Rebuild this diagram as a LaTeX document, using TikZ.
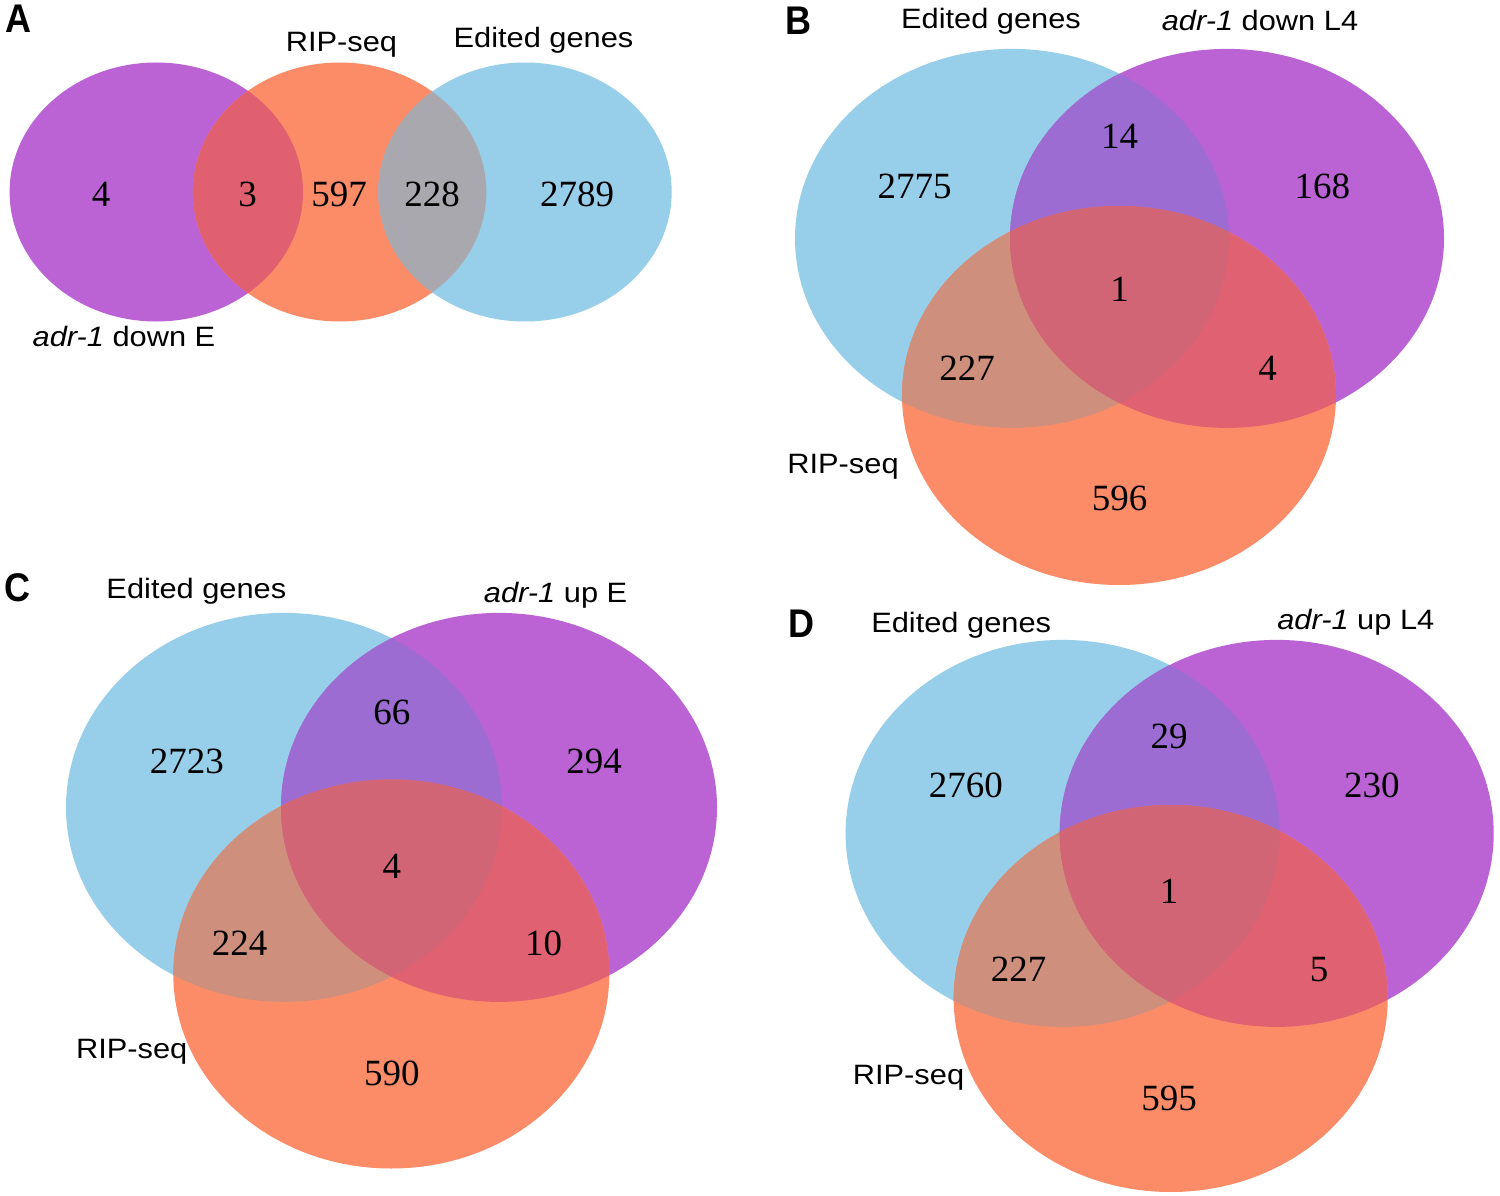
\documentclass[tikz,border=0pt]{standalone}
\usepackage{fontspec}
\newfontfamily\numfont{Liberation Serif}
\newfontfamily\labfont[FakeStretch=1.1]{Liberation Sans}
\newfontfamily\panfont[FakeStretch=0.9]{Liberation Sans}
\definecolor{cpurple}{RGB}{187,99,212}
\definecolor{cblue}{RGB}{151,206,233}
\definecolor{corange}{RGB}{252,140,103}
\definecolor{cpoA}{RGB}{224,96,112}
\definecolor{cgrayA}{RGB}{168,168,174}
\definecolor{cbp}{RGB}{156,108,210}
\definecolor{cbo}{RGB}{206,144,125}
\definecolor{cpo}{RGB}{224,97,113}
\definecolor{cbpo}{RGB}{209,101,117}
% #1,#2 blue centre; #3,#4 purple centre; #5,#6 orange centre; #7 rx; #8 ry
\newcommand{\vennthree}[8]{%
  \fill[cblue] (#1,#2) ellipse [x radius=#7pt, y radius=#8pt];
  \fill[cpurple] (#3,#4) ellipse [x radius=#7pt, y radius=#8pt];
  \fill[corange] (#5,#6) ellipse [x radius=#7pt, y radius=#8pt];
  \begin{scope}
    \clip (#1,#2) ellipse [x radius=#7pt, y radius=#8pt];
    \fill[cbp] (#3,#4) ellipse [x radius=#7pt, y radius=#8pt];
  \end{scope}
  \begin{scope}
    \clip (#1,#2) ellipse [x radius=#7pt, y radius=#8pt];
    \fill[cbo] (#5,#6) ellipse [x radius=#7pt, y radius=#8pt];
  \end{scope}
  \begin{scope}
    \clip (#3,#4) ellipse [x radius=#7pt, y radius=#8pt];
    \fill[cpo] (#5,#6) ellipse [x radius=#7pt, y radius=#8pt];
  \end{scope}
  \begin{scope}
    \clip (#1,#2) ellipse [x radius=#7pt, y radius=#8pt];
    \clip (#3,#4) ellipse [x radius=#7pt, y radius=#8pt];
    \fill[cbpo] (#5,#6) ellipse [x radius=#7pt, y radius=#8pt];
  \end{scope}
}
\tikzset{
  num/.style={font=\numfont\fontsize{37}{40}\selectfont, anchor=base, inner sep=0pt},
  lab/.style={font=\labfont\fontsize{28}{32}\selectfont, anchor=base, inner sep=0pt},
  pan/.style={font=\panfont\bfseries\fontsize{40}{44}\selectfont, anchor=base, inner sep=0pt},
}
\begin{document}
\begin{tikzpicture}[x=1pt,y=-1pt]
\useasboundingbox (0,0) rectangle (1500,1196);
\fill[white] (0,0) rectangle (1500,1196);

% ---------------- Panel A ----------------
\fill[cpurple] (156.3,192) ellipse [x radius=146.7pt, y radius=129.5pt];
\fill[corange] (339.6,192) ellipse [x radius=146.7pt, y radius=129.5pt];
\fill[cblue] (525,192) ellipse [x radius=146.7pt, y radius=129.5pt];
\begin{scope}
  \clip (156.3,192) ellipse [x radius=146.7pt, y radius=129.5pt];
  \fill[cpoA] (339.6,192) ellipse [x radius=146.7pt, y radius=129.5pt];
\end{scope}
\begin{scope}
  \clip (525,192) ellipse [x radius=146.7pt, y radius=129.5pt];
  \fill[cgrayA] (339.6,192) ellipse [x radius=146.7pt, y radius=129.5pt];
\end{scope}
\node[pan] (pA) at (18,33) {A};
\node[lab] (aRip) at (341.5,51.5) {RIP-seq};
\node[lab] (aEd) at (543.5,47.7) {Edited genes};
\node[lab] (aAdr) at (124,346.7) {\textit{adr-1} down E};
\node[num] (a1) at (101,206) {4};
\node[num] (a2) at (247.7,206) {3};
\node[num] (a3) at (339,206) {597};
\node[num] (a4) at (432,206) {228};
\node[num] (a5) at (577,206) {2789};

% ---------------- Panel B ----------------
\vennthree{1012}{238.4}{1227}{238.4}{1119}{395.5}{217}{189.5}
\node[pan] (pB) at (798,35) {B};
\node[lab] (bEd) at (991,29) {Edited genes};
\node[lab] (bAdr) at (1260,31) {\textit{adr-1} down L4};
\node[lab] (bRip) at (843,473) {RIP-seq};
\node[num] (b1) at (914.6,198.3) {2775};
\node[num] (b2) at (1119.7,148.5) {14};
\node[num] (b3) at (1322.4,198.3) {168};
\node[num] (b4) at (1119.7,301.5) {1};
\node[num] (b5) at (967,380) {227};
\node[num] (b6) at (1267.5,380) {4};
\node[num] (b7) at (1119.7,510.5) {596};

% ---------------- Panel C ----------------
\vennthree{284}{807.4}{499}{807.4}{391.3}{974}{218}{194.5}
\node[pan] (pC) at (17,601) {C};
\node[lab] (cEd) at (196.4,598.4) {Edited genes};
\node[lab] (cAdr) at (555.6,602.4) {\textit{adr-1} up E};
\node[lab] (cRip) at (131.7,1058.7) {RIP-seq};
\node[num] (c1) at (186.8,773.3) {2723};
\node[num] (c2) at (391.8,724.5) {66};
\node[num] (c3) at (594,773.3) {294};
\node[num] (c4) at (391.8,878.5) {4};
\node[num] (c5) at (239.5,955.8) {224};
\node[num] (c6) at (543.7,955.8) {10};
\node[num] (c7) at (391.8,1085.5) {590};

% ---------------- Panel D ----------------
\vennthree{1062.6}{833.4}{1276.7}{833.4}{1170.7}{998.5}{217}{193.5}
\node[pan] (pD) at (801,637) {D};
\node[lab] (dEd) at (961.2,632.8) {Edited genes};
\node[lab] (dAdr) at (1355.8,629) {\textit{adr-1} up L4};
\node[lab] (dRip) at (908.5,1084.8) {RIP-seq};
\node[num] (d1) at (965.8,797.5) {2760};
\node[num] (d2) at (1169,748.5) {29};
\node[num] (d3) at (1371.9,797.5) {230};
\node[num] (d4) at (1169,903.8) {1};
\node[num] (d5) at (1018.6,981) {227};
\node[num] (d6) at (1319,981) {5};
\node[num] (d7) at (1169,1110.5) {595};
\end{tikzpicture}
\end{document}
